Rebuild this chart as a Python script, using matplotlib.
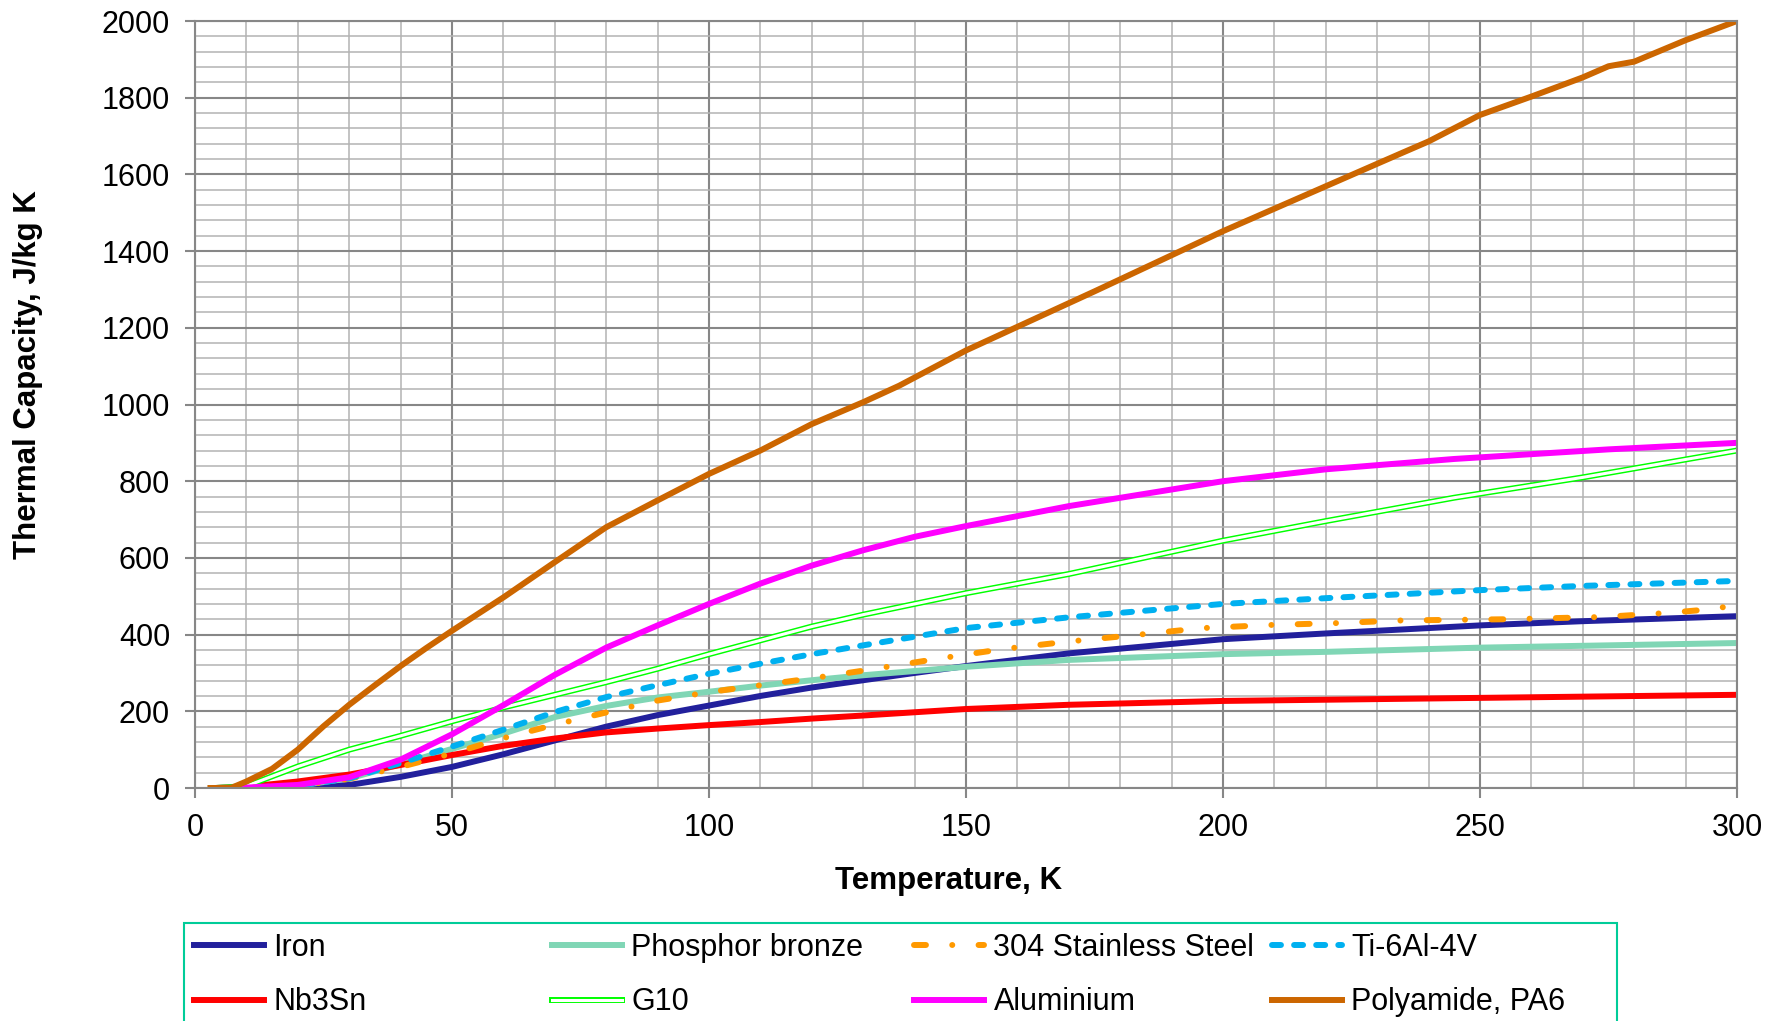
import matplotlib
matplotlib.use("Agg")
import matplotlib.pyplot as plt
import matplotlib.patheffects as pe
from matplotlib.patches import Rectangle
from matplotlib.ticker import MultipleLocator

plt.rcParams['font.family'] = ['Liberation Sans', 'DejaVu Sans']

# values (temperature in K, thermal capacity in J/kg K)
iron_t = [4, 10, 20, 30, 40, 50, 60, 70, 80, 90, 100, 110, 120, 130, 140, 150, 170, 200, 220, 250, 270, 300]
iron_c = [0, 0, 1, 8, 29, 55, 88, 124, 160, 190, 215, 240, 262, 281, 300, 318, 351, 388, 403, 424, 435, 448]

nb3sn_t = [4, 10, 20, 30, 40, 50, 60, 70, 80, 90, 100, 110, 120, 130, 150, 170, 200, 250, 300]
nb3sn_c = [0, 3, 17, 35, 60, 86, 110, 129, 145, 155, 164, 172, 181, 189, 206, 217, 227, 235, 243]

bronze_t = [4, 10, 20, 30, 40, 50, 60, 70, 80, 90, 100, 110, 120, 130, 150, 170, 200, 220, 250, 300]
bronze_c = [0, 1, 6, 25, 62, 102, 142, 185, 214, 236, 251, 267, 281, 294, 316, 334, 349, 355, 366, 378]

g10_t = [4, 10, 20, 30, 40, 50, 60, 70, 80, 90, 100, 120, 130, 150, 170, 200, 220, 245, 270, 300]
g10_c = [0, 5, 56, 100, 136, 174, 210, 243, 276, 311, 349, 421, 452, 508, 558, 645, 696, 757, 810, 880]

ss304_t = [4, 10, 20, 30, 40, 50, 60, 70, 80, 90, 100, 110, 120, 130, 145, 157, 170, 183, 196, 209,
           222, 235, 255, 274, 287, 293, 300]
ss304_c = [0, 1, 6, 24, 55, 90, 130, 165, 197, 228, 250, 268, 286, 306, 338, 362, 382, 399, 417, 425,
           430, 437, 440, 446, 457, 464, 476]

al_t = [4, 10, 20, 30, 40, 50, 60, 70, 80, 90, 100, 110, 120, 130, 140, 150, 170, 200, 220, 245, 275, 300]
al_c = [0, 1, 8, 28, 74, 140, 216, 295, 366, 424, 480, 533, 580, 620, 655, 683, 735, 800, 831, 858, 883, 900]

ti_t = [4, 10, 20, 30, 40, 50, 60, 70, 80, 90, 100, 110, 120, 130, 150, 170, 200, 220, 250, 270, 300]
ti_c = [0, 1, 6, 25, 65, 108, 152, 198, 237, 268, 298, 324, 349, 372, 417, 445, 480, 495, 516, 527, 540]

pa6_t = [3, 7, 10, 15, 20, 25, 30, 35, 40, 45, 50, 60, 70, 80, 90, 100, 110, 120, 130, 137, 150, 175,
         200, 235, 240, 250, 260, 270, 275, 280, 290, 300]
pa6_c = [0, 0, 17, 50, 100, 161, 217, 268, 318, 365, 410, 497, 589, 680, 750, 819, 880, 949, 1006, 1049,
         1141, 1295, 1452, 1657, 1686, 1755, 1803, 1853, 1882, 1894, 1950, 2000]

W, H = 1783, 1021
fig = plt.figure(figsize=(W / 100, H / 100), dpi=100)
ax = fig.add_axes([195 / W, 1 - 788 / H, (1737 - 195) / W, (788 - 21) / H])

lw = 4.3
h_iron, = ax.plot(iron_t, iron_c, color='#22209c', lw=lw, label='Iron')
h_bronze, = ax.plot(bronze_t, bronze_c, color='#80d6b5', lw=lw, label='Phosphor bronze')
h_nb, = ax.plot(nb3sn_t, nb3sn_c, color='#ff0000', lw=lw, label='Nb3Sn')
h_g10, = ax.plot(g10_t, g10_c, color='white', lw=2.2, label='G10',
                 path_effects=[pe.Stroke(linewidth=4.3, foreground='#00ff00'), pe.Normal()])
h_ss, = ax.plot(ss304_t, ss304_c, color='#ff9900', lw=lw, label='304 Stainless Steel',
                dashes=(2, 4.4, 0.01, 4.4), dash_capstyle='round')
h_ti, = ax.plot(ti_t, ti_c, color='#00b0f0', lw=lw, label='Ti-6Al-4V',
                dashes=(1.5, 2.2), dash_capstyle='round')
h_al, = ax.plot(al_t, al_c, color='#ff00ff', lw=lw, label='Aluminium')
h_pa, = ax.plot(pa6_t, pa6_c, color='#cc6600', lw=lw, label='Polyamide, PA6')

ax.set_xlim(0, 300)
ax.set_ylim(0, 2000)
ax.set_xticks(range(0, 301, 50))
ax.set_yticks(range(0, 2001, 200))
ax.xaxis.set_minor_locator(MultipleLocator(10))
ax.yaxis.set_minor_locator(MultipleLocator(40))
ax.grid(which='major', color='#878787', lw=1.5)
ax.grid(which='minor', color='#b3b3b3', lw=1.1)
ax.set_axisbelow(True)
ax.tick_params(which='major', direction='out', length=7, width=1.5, color='#878787',
               labelsize=22, pad=11)
ax.tick_params(which='minor', length=0)
for s in ax.spines.values():
    s.set_color('#878787')
    s.set_linewidth(1.5)

fig.text(949 / W, 1 - 881 / H, 'Temperature, K', fontsize=22.5, fontweight='bold',
         ha='center', va='center')
fig.text(28 / W, 1 - 375 / H, 'Thermal Capacity, J/kg K', fontsize=22.5, fontweight='bold',
         ha='center', va='center', rotation=90)

# legend: four fixed columns inside one teal frame that runs off the bottom
cols = [(194, [h_iron, h_nb]), (552, [h_bronze, h_g10]), (914, [h_ss, h_al]), (1272, [h_ti, h_pa])]
for x, hs in cols:
    fig.legend(handles=hs, loc='upper left', bbox_to_anchor=(x / W, 1 - 933 / H),
               frameon=False, fontsize=22, borderpad=0, borderaxespad=0,
               handlelength=2.3, handletextpad=0.3, labelspacing=0.8)
fig.add_artist(Rectangle((184 / W, -0.05), (1617 - 184) / W, 0.05 + (1021 - 923) / H,
                         transform=fig.transFigure, fill=False, edgecolor='#00cc99', lw=1.5))

fig.savefig('out.png', dpi=100)
